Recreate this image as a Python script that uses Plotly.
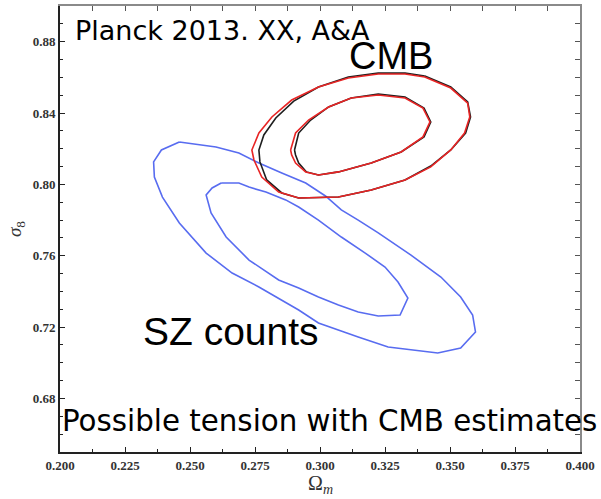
import plotly.graph_objects as go

# ---- data (Omega_m, sigma_8) ----
sz_outer_x = [0.2459, 0.2600, 0.2688, 0.2765, 0.2853, 0.2945, 0.3021, 0.3082, 0.3147, 0.3224,
              0.3350, 0.3465, 0.3541, 0.3587, 0.3598, 0.3541, 0.3453, 0.3262, 0.3147, 0.2994,
              0.2918, 0.2765, 0.2662, 0.2562, 0.2459, 0.2394, 0.2363, 0.2360, 0.2390, 0.2459]
sz_outer_y = [0.8238, 0.8210, 0.8176, 0.8120, 0.8064, 0.8008, 0.7935, 0.7857, 0.7800, 0.7728,
              0.7604, 0.7481, 0.7369, 0.7268, 0.7173, 0.7083, 0.7055, 0.7089, 0.7145, 0.7223,
              0.7296, 0.7425, 0.7503, 0.7615, 0.7784, 0.7929, 0.8041, 0.8126, 0.8193, 0.8238]

sz_inner_x = [0.2620, 0.2688, 0.2727, 0.2792, 0.2868, 0.2918, 0.2994, 0.3082, 0.3174, 0.3250,
              0.3300, 0.3338, 0.3308, 0.3224, 0.3147, 0.3071, 0.2994, 0.2918, 0.2841, 0.2727,
              0.2639, 0.2581, 0.2562, 0.2585, 0.2620]
sz_inner_y = [0.8008, 0.8008, 0.7985, 0.7957, 0.7913, 0.7873, 0.7800, 0.7705, 0.7615, 0.7537,
              0.7453, 0.7363, 0.7268, 0.7262, 0.7285, 0.7324, 0.7369, 0.7419, 0.7464, 0.7576,
              0.7705, 0.7840, 0.7941, 0.7980, 0.8008]

cmb_red_outer_x = [0.3403, 0.3503, 0.3568, 0.3576, 0.3556, 0.3503, 0.3426, 0.3327, 0.3197, 0.3071,
                   0.2918, 0.2841, 0.2776, 0.2746, 0.2738, 0.2765, 0.2815, 0.2891, 0.2994, 0.3109,
                   0.3224, 0.3327, 0.3403]
cmb_red_outer_y = [0.8602, 0.8540, 0.8456, 0.8378, 0.8288, 0.8193, 0.8098, 0.8025, 0.7969, 0.7929,
                   0.7924, 0.7957, 0.8041, 0.8137, 0.8193, 0.8288, 0.8378, 0.8473, 0.8546, 0.8596,
                   0.8619, 0.8619, 0.8602]

cmb_red_inner_x = [0.2887, 0.2906, 0.2956, 0.3033, 0.3120, 0.3224, 0.3327, 0.3396, 0.3423, 0.3396,
                   0.3312, 0.3197, 0.3071, 0.2994, 0.2945, 0.2906, 0.2891, 0.2887]
cmb_red_inner_y = [0.8193, 0.8288, 0.8361, 0.8434, 0.8484, 0.8501, 0.8484, 0.8428, 0.8350, 0.8266,
                   0.8182, 0.8120, 0.8070, 0.8053, 0.8070, 0.8120, 0.8165, 0.8193]

cmb_black_outer_x = [0.3403, 0.3503, 0.3568, 0.3579, 0.3560, 0.3503, 0.3426, 0.3327, 0.3197, 0.3071,
                     0.2918, 0.2853, 0.2795, 0.2769, 0.2765, 0.2784, 0.2830, 0.2899, 0.2994, 0.3109,
                     0.3224, 0.3327, 0.3403]
cmb_black_outer_y = [0.8608, 0.8546, 0.8462, 0.8378, 0.8288, 0.8193, 0.8103, 0.8025, 0.7969, 0.7929,
                     0.7924, 0.7952, 0.8025, 0.8126, 0.8193, 0.8277, 0.8372, 0.8467, 0.8546, 0.8602,
                     0.8624, 0.8624, 0.8608]

cmb_black_inner_x = [0.2902, 0.2918, 0.2964, 0.3033, 0.3120, 0.3224, 0.3327, 0.3400, 0.3426, 0.3400,
                     0.3312, 0.3197, 0.3071, 0.2994, 0.2948, 0.2918, 0.2906, 0.2902]
cmb_black_inner_y = [0.8193, 0.8288, 0.8361, 0.8434, 0.8484, 0.8507, 0.8490, 0.8428, 0.8350, 0.8266,
                     0.8182, 0.8120, 0.8070, 0.8053, 0.8070, 0.8120, 0.8165, 0.8193]

x_range = [0.200, 0.400]
y_range = [0.65, 0.90]

BLUE = "rgb(88,108,240)"
RED = "rgb(232,36,36)"
BLACK = "rgb(30,30,30)"

fig = go.Figure()
for xs, ys, col in [(sz_outer_x, sz_outer_y, BLUE), (sz_inner_x, sz_inner_y, BLUE),
                    (cmb_black_outer_x, cmb_black_outer_y, BLACK), (cmb_black_inner_x, cmb_black_inner_y, BLACK),
                    (cmb_red_outer_x, cmb_red_outer_y, RED), (cmb_red_inner_x, cmb_red_inner_y, RED)]:
    fig.add_trace(go.Scatter(x=xs, y=ys, mode="lines", line=dict(color=col, width=1.6),
                             showlegend=False, hoverinfo="skip"))

# invisible trace for the mirrored (top/right) axes
fig.add_trace(go.Scatter(x=[x_range[0]], y=[y_range[0]], xaxis="x2", yaxis="y2",
                         mode="markers", marker=dict(opacity=0), showlegend=False, hoverinfo="skip"))

tickfont = dict(family="Liberation Serif", size=13, color="#333333", weight="bold")

fig.update_layout(
    width=601, height=499, autosize=False,
    margin=dict(l=60, r=18, t=6, b=47),
    paper_bgcolor="white", plot_bgcolor="white",
    xaxis=dict(range=x_range, dtick=0.025, tick0=0.2, tickformat=".3f", showgrid=False, zeroline=False,
               showline=True, linecolor="#222222", linewidth=2, ticks="inside", ticklen=5, tickwidth=1.2,
               tickcolor="#222222", tickfont=tickfont,
               minor=dict(dtick=0.0125, ticks="inside", ticklen=3, tickcolor="#222222", showgrid=False)),
    yaxis=dict(range=y_range, dtick=0.04, tick0=0.68, tickformat=".2f", showgrid=False, zeroline=False,
               showline=True, linecolor="#222222", linewidth=2, ticks="inside", ticklen=5, tickwidth=1.2,
               tickcolor="#222222", tickfont=tickfont,
               minor=dict(dtick=0.01, ticks="inside", ticklen=3, tickcolor="#222222", showgrid=False),
               title=dict(text="<i>σ</i><sub>8</sub>", font=dict(family="Liberation Serif", size=19, color="#333333"),
                          standoff=6)),
    xaxis2=dict(range=x_range, overlaying="x", side="top", showgrid=False, zeroline=False,
                showline=True, linecolor="#8a8a8a", linewidth=1.5, ticks="inside", ticklen=5,
                tickcolor="#555555", dtick=0.0125, tick0=0.2, showticklabels=False),
    yaxis2=dict(range=y_range, overlaying="y", side="right", showgrid=False, zeroline=False,
                showline=True, linecolor="#8a8a8a", linewidth=1.5, ticks="inside", ticklen=5,
                tickcolor="#555555", dtick=0.01, tick0=0.65, showticklabels=False),
)

# x-axis title
fig.add_annotation(text="Ω<sub><i>m</i></sub>", x=0.5, y=-0.072, xref="paper", yref="paper",
                   xanchor="center", yanchor="middle", showarrow=False,
                   font=dict(family="Liberation Serif", size=20, color="#333333"))

fig.add_annotation(text="Planck 2013. XX, A&A", x=0.2050, y=0.8863, xref="x", yref="y",
                   xanchor="left", yanchor="middle", showarrow=False,
                   font=dict(family="DejaVu Sans", size=27, color="black"))
fig.add_annotation(text="CMB", x=0.3105, y=0.8717, xref="x", yref="y",
                   xanchor="left", yanchor="middle", showarrow=False,
                   font=dict(family="Liberation Sans", size=38, color="black"))
fig.add_annotation(text="SZ counts", x=0.2310, y=0.7173, xref="x", yref="y",
                   xanchor="left", yanchor="middle", showarrow=False,
                   font=dict(family="Liberation Sans", size=39, color="black"))
fig.add_annotation(text="Possible tension with CMB estimates", x=0.2, y=0.6674, xref="x", yref="y",
                   xanchor="left", yanchor="middle", showarrow=False,
                   font=dict(family="DejaVu Sans", size=29.3, color="black"))

fig.write_html("out.html", config={"displayModeBar": False},
               post_script="document.body.style.margin='0';")
